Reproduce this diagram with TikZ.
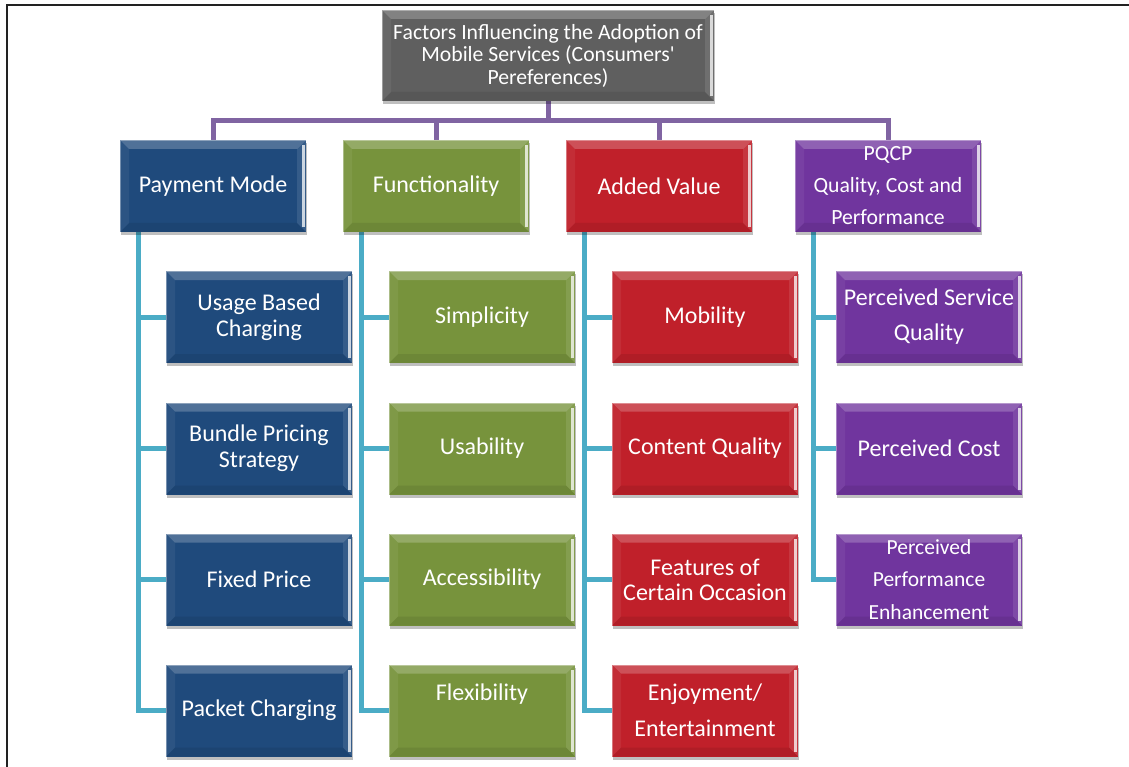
\documentclass[tikz,border=0pt]{standalone}
\usepackage{fontspec}
\setmainfont{Carlito}
\usetikzlibrary{shadows,backgrounds}
\definecolor{cgray}{HTML}{5F5F5F}
\definecolor{cblue}{HTML}{1F4A7C}
\definecolor{cgreen}{HTML}{77933C}
\definecolor{cred}{HTML}{C0202A}
\definecolor{cpurple}{HTML}{70359E}
\definecolor{lpurple}{HTML}{8064A2}
\definecolor{lcyan}{HTML}{4BACC6}
\definecolor{frame}{HTML}{222222}
\tikzset{
  bevel/.style={path picture={
    \path (path picture bounding box.north west) coordinate (ppnw)
          (path picture bounding box.north east) coordinate (ppne)
          (path picture bounding box.south west) coordinate (ppsw)
          (path picture bounding box.south east) coordinate (ppse);
    \fill[white,opacity=.22] (ppnw) -- (ppne) -- ([shift={(-9pt,-9pt)}]ppne) -- ([shift={(9pt,-9pt)}]ppnw) -- cycle;
    \fill[white,opacity=.06] (ppnw) -- ([shift={(9pt,-9pt)}]ppnw) -- ([shift={(9pt,9pt)}]ppsw) -- (ppsw) -- cycle;
    \fill[black,opacity=.08] (ppsw) -- ([shift={(9pt,9pt)}]ppsw) -- ([shift={(-9pt,9pt)}]ppse) -- (ppse) -- cycle;
    \fill[white,opacity=.10] (ppne) -- (ppse) -- ([shift={(-9pt,9pt)}]ppse) -- ([shift={(-9pt,-9pt)}]ppne) -- cycle;
    \fill[white,opacity=.75] ([shift={(-4pt,-5pt)}]ppne) rectangle ([shift={(-1.5pt,5pt)}]ppse);
    \draw[white,opacity=.35,line width=1pt] ([shift={(0.5pt,0pt)}]ppsw) -- ([shift={(0.5pt,-0.5pt)}]ppnw) -- ([shift={(0pt,-0.5pt)}]ppne);
  }},
  fbox/.style={draw=none, minimum width=186pt, minimum height=92pt, inner sep=0pt,
    text=white, align=center, font=\fontsize{24}{26}\selectfont, bevel,
    drop shadow={shadow xshift=1pt, shadow yshift=-3pt, fill=black, opacity=.25}},
  rootbox/.style={fbox, fill=cgray, minimum width=332pt, minimum height=91pt,
    font=\fontsize{21.7}{22.5}\selectfont},
  bluebox/.style={fbox, fill=cblue},
  greenbox/.style={fbox, fill=cgreen},
  redbox/.style={fbox, fill=cred},
  purplebox/.style={fbox, fill=cpurple},
  pline/.style={draw=lpurple, line width=5pt},
  cline/.style={draw=lcyan, line width=5pt},
}
\begin{document}
\begin{tikzpicture}[x=1pt,y=-1pt]
\useasboundingbox (0,0) rectangle (1129,767);
\draw[frame, line width=2.4pt] (7,767) -- (7,5) -- (1129,5);

% root
\node[rootbox] (root) at (548,55.5) {Factors Influencing the Adoption of\\Mobile Services (Consumers\textquotesingle\\Pereferences)};

% level 1
\node[bluebox] (pay) at (213,186) {Payment Mode};
\node[greenbox] (fun) at (436,186) {Functionality};
\node[redbox] (add) at (659,186) {Added Value};
\node[purplebox, font=\fontsize{21.7}{32}\selectfont] (pq) at (888,186) {PQCP\\Quality, Cost and\\Performance};

% level 2 - payment
\node[bluebox] (p1) at (259,317) {Usage Based\\Charging};
\node[bluebox] (p2) at (259,448.5) {Bundle Pricing\\Strategy};
\node[bluebox] (p3) at (259,579.5) {Fixed Price};
\node[bluebox] (p4) at (259,710.5) {Packet Charging};
% functionality
\node[greenbox] (f1) at (482,317) {Simplicity};
\node[greenbox] (f2) at (482,448.5) {Usability};
\node[greenbox] (f3) at (482,579.5) {Accessibility};
\node[greenbox, font=\fontsize{24}{36}\selectfont] (f4) at (482,710.5) {Flexibility\\\mbox{}};
% added value
\node[redbox] (a1) at (705,317) {Mobility};
\node[redbox] (a2) at (705,448.5) {Content Quality};
\node[redbox, font=\fontsize{24}{25}\selectfont] (a3) at (705,579.5) {Features of\\Certain Occasion};
\node[redbox, font=\fontsize{24}{36}\selectfont] (a4) at (705,710.5) {Enjoyment/\\Entertainment};
% PQCP
\node[purplebox, font=\fontsize{24}{35}\selectfont] (q1) at (929,317) {Perceived Service\\Quality};
\node[purplebox] (q2) at (929,448.5) {Perceived Cost};
\node[purplebox, font=\fontsize{21.5}{32.5}\selectfont] (q3) at (929,579.5) {Perceived\\Performance\\Enhancement};

\begin{scope}[on background layer]
  \coordinate (bus) at (548,121);
  \draw[pline] (root.south) -- (bus);
  \foreach \n in {pay,fun,add,pq} \draw[pline] (\n.north) |- (bus);
  \foreach \p/\c in {pay/p1,pay/p2,pay/p3,pay/p4,fun/f1,fun/f2,fun/f3,fun/f4,add/a1,add/a2,add/a3,add/a4,pq/q1,pq/q2,pq/q3}
    \draw[cline] ([xshift=19pt]\p.south west) |- (\c.west);
\end{scope}
\end{tikzpicture}
\end{document}
